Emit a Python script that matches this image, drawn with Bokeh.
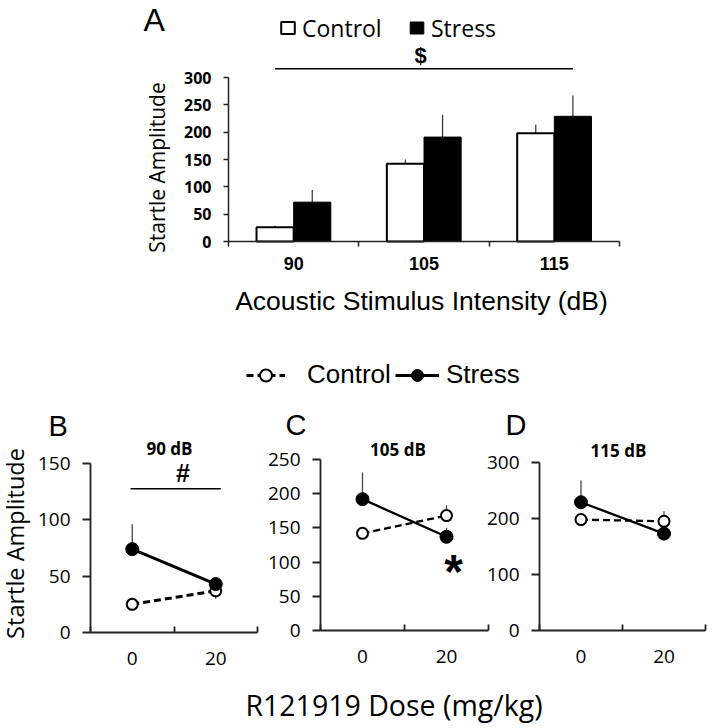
from math import pi
from bokeh.plotting import figure
from bokeh.models import (Range1d, FixedTicker, Label, Legend, LegendItem, ColumnDataSource,
                          LinearAxis)
from bokeh.embed import file_html
from bokeh.resources import INLINE

# ---------------- data ----------------
intensity_labels = ["90", "105", "115"]
control_A = [26, 142, 198]
control_A_err = [3, 8, 16]
stress_A = [72, 191, 229]
stress_A_err = [22, 41, 38]
yticks_A = [0, 50, 100, 150, 200, 250, 300]

dose_labels = ["0", "20"]
control_B = [25, 37]
control_B_err = [0, -7]
stress_B = [74, 43]
stress_B_err = [22, 5]
yticks_B = [0, 50, 100, 150]

control_C = [142, 168]
control_C_err = [0, 15]
stress_C = [192, 137]
stress_C_err = [39, 13]
yticks_C = [0, 50, 100, 150, 200, 250]

control_D = [198, 195]
control_D_err = [0, 18]
stress_D = [229, 173]
stress_D_err = [39, 0]
yticks_D = [0, 100, 200, 300]

OPEN = "Open Sans"
ARIAL = "Liberation Sans"
AXC = "#222222"
W, H = 714, 728

# One canvas; every panel gets its own pair of ranges (layout anchors in pixels).
p = figure(width=W, height=H, x_range=Range1d(0, W), y_range=Range1d(0, H),
           x_axis_location=None, y_axis_location=None,
           min_border_left=0, min_border_right=0, min_border_top=0, min_border_bottom=0,
           output_backend="svg", toolbar_location=None, title=None)
p.xgrid.visible = False
p.ygrid.visible = False
p.outline_line_color = None


def xrange_from(px0, v0, px1, v1):
    s = (px1 - px0) / (v1 - v0)
    return Range1d(v0 - px0 / s, v0 + (W - px0) / s)


def yrange_from(py0, v0, py1, v1):
    q0, q1 = H - py0, H - py1
    s = (q1 - q0) / (v1 - v0)
    return Range1d(v0 - q0 / s, v0 + (H - q0) / s)


nA = len(intensity_labels)
nD = len(dose_labels)
p.extra_x_ranges = {
    "A": xrange_from(228, 0, 619, nA),
    "B": xrange_from(90, 0, 257, nD),
    "C": xrange_from(320, 0, 488, nD),
    "D": xrange_from(539, 0, 705, nD),
}
p.extra_y_ranges = {
    "A": yrange_from(241, 0, 77, 300),
    "B": yrange_from(632, 0, 463, 150),
    "C": yrange_from(630, 0, 459, 250),
    "D": yrange_from(630, 0, 462, 300),
}


def style_axis(ax, lw, font, size, style="normal"):
    ax.axis_line_color = AXC
    ax.axis_line_width = lw
    ax.major_tick_line_color = AXC
    ax.minor_tick_line_color = AXC
    ax.major_tick_line_width = lw
    ax.minor_tick_line_width = lw
    ax.major_label_text_color = "black"
    ax.major_label_text_font = font
    ax.major_label_text_font_size = size
    ax.major_label_text_font_style = style


def txt(x, y_page, t, font, size, style="normal", align="center", angle=0):
    # y_page is the vertical centre of the text on the page
    p.add_layout(Label(x=x, y=H - y_page, text=t, text_font=font, text_font_size=size,
                       text_font_style=style, text_align=align, text_baseline="middle",
                       angle=angle, text_color="black"))


# ---------------- Panel A ----------------
bar_w = 0.285
ctrl_x = [i + 0.5 - bar_w / 2 for i in range(nA)]
str_x = [i + 0.5 + bar_w / 2 for i in range(nA)]
srcA_c = ColumnDataSource(dict(x=ctrl_x, top=control_A,
                               etop=[m + e for m, e in zip(control_A, control_A_err)]))
srcA_s = ColumnDataSource(dict(x=str_x, top=stress_A,
                               etop=[m + e for m, e in zip(stress_A, stress_A_err)]))
rA = dict(x_range_name="A", y_range_name="A")
p.segment(x0="x", y0="top", x1="x", y1="etop", source=srcA_c, line_color="#333333", line_width=1.2, **rA)
p.segment(x0="x", y0="top", x1="x", y1="etop", source=srcA_s, line_color="#333333", line_width=1.2, **rA)
bars_c = p.vbar(x="x", top="top", bottom=0, width=bar_w, source=srcA_c,
                fill_color="white", line_color="black", line_width=2, **rA)
bars_s = p.vbar(x="x", top="top", bottom=0, width=bar_w, source=srcA_s,
                fill_color="black", line_color="black", line_width=1, **rA)

yaxA = LinearAxis(fixed_location=0, bounds=(0, 300), ticker=FixedTicker(ticks=yticks_A, minor_ticks=[]),
                  major_tick_out=5, major_tick_in=0, minor_tick_out=0, major_label_standoff=12, **rA)
style_axis(yaxA, 1.5, OPEN, "16px", "bold")
p.add_layout(yaxA, "left")
xaxA = LinearAxis(fixed_location=0, bounds=(0, nA),
                  ticker=FixedTicker(ticks=[i + 0.5 for i in range(nA)], minor_ticks=list(range(nA + 1))),
                  major_label_overrides={i + 0.5: lab for i, lab in enumerate(intensity_labels)},
                  major_tick_out=0, major_tick_in=0, minor_tick_out=5, minor_tick_in=0,
                  major_label_standoff=10, **rA)
style_axis(xaxA, 1.5, ARIAL, "18px", "bold")
p.add_layout(xaxA, "below")

# significance bar "$" spanning 90-control to 115-stress
p.segment(x0=[ctrl_x[0]], y0=[316], x1=[str_x[-1]], y1=[316], line_color="black", line_width=1.5, **rA)
txt(420, 55, "$", ARIAL, "22px", "bold")
txt(143, 19, "A", ARIAL, "32px", align="left")
txt(156, 167, "Startle Amplitude", OPEN, "21px", angle=pi / 2)
txt(421, 300, "Acoustic Stimulus Intensity (dB)", ARIAL, "26.5px")

for item_label, rend, vx in (("Control", bars_c, 279), ("Stress", bars_s, 408)):
    lg = Legend(items=[LegendItem(label=item_label, renderers=[rend])], location=(vx, H - 43.5),
                orientation="horizontal", glyph_width=17, glyph_height=15, label_standoff=6,
                label_height=15, padding=0, margin=0, spacing=0,
                border_line_color=None, background_fill_alpha=0,
                label_text_font=OPEN, label_text_font_size="23px", label_text_color="black")
    p.add_layout(lg, "center")


# ---------------- Panels B, C, D ----------------
def dose_panel(name, ymax, yticks, ctrl, ctrl_err, stress, stress_err, lw):
    r = dict(x_range_name=name, y_range_name=name)
    xs = [i + 0.5 for i in range(nD)]
    src_c = ColumnDataSource(dict(x=xs, y=ctrl, e=[m + e for m, e in zip(ctrl, ctrl_err)]))
    src_s = ColumnDataSource(dict(x=xs, y=stress, e=[m + e for m, e in zip(stress, stress_err)]))
    p.segment(x0="x", y0="y", x1="x", y1="e", source=src_c, line_color="#444444", line_width=1.3, **r)
    p.segment(x0="x", y0="y", x1="x", y1="e", source=src_s, line_color="#444444", line_width=1.3, **r)
    lc = p.line(x="x", y="y", source=src_c, line_color="black", line_width=lw, line_dash="7 4", **r)
    ls = p.line(x="x", y="y", source=src_s, line_color="black", line_width=lw, **r)
    mc = p.scatter(x="x", y="y", source=src_c, marker="circle", size=11, fill_color="white",
                   line_color="black", line_width=2, **r)
    ms = p.scatter(x="x", y="y", source=src_s, marker="circle", size=13, fill_color="black",
                   line_color="black", **r)
    ya = LinearAxis(fixed_location=0, bounds=(0, ymax), ticker=FixedTicker(ticks=yticks, minor_ticks=[]),
                    major_tick_out=8, major_tick_in=0, minor_tick_out=0, major_label_standoff=12, **r)
    style_axis(ya, 1.8, OPEN, "19px")
    p.add_layout(ya, "left")
    xa = LinearAxis(fixed_location=0, bounds=(0, nD),
                    ticker=FixedTicker(ticks=xs, minor_ticks=list(range(nD + 1))),
                    major_label_overrides={x: lab for x, lab in zip(xs, dose_labels)},
                    major_tick_out=0, major_tick_in=0, minor_tick_in=6, minor_tick_out=0,
                    major_label_standoff=19, **r)
    style_axis(xa, 1.8, OPEN, "19px")
    p.add_layout(xa, "below")
    return lc, mc, ls, ms


lcB, mcB, lsB, msB = dose_panel("B", 150, yticks_B, control_B, control_B_err, stress_B, stress_B_err, 3)
p.segment(x0=[0.48], y0=[127.5], x1=[1.56], y1=[127.5], line_color="black", line_width=1.5,
          x_range_name="B", y_range_name="B")
dose_panel("C", 250, yticks_C, control_C, control_C_err, stress_C, stress_C_err, 2.3)
dose_panel("D", 300, yticks_D, control_D, control_D_err, stress_D, stress_D_err, 2.3)

txt(182.5, 472.5, "#", ARIAL, "25px", "bold")
txt(169, 447.5, "90 dB", OPEN, "17px", "bold")
txt(397.5, 449, "105 dB", OPEN, "17px", "bold")
txt(618, 450, "115 dB", OPEN, "17px", "bold")
txt(48, 425, "B", ARIAL, "29px", align="left")
txt(285, 424, "C", ARIAL, "29px", align="left")
txt(505, 424, "D", ARIAL, "29px", align="left")
txt(453, 571, "*", ARIAL, "48px", "bold")
txt(14, 543, "Startle Amplitude", OPEN, "23.5px", angle=pi / 2)
txt(393.5, 704, "R121919 Dose (mg/kg)", OPEN, "28.5px")

# shared legend for B-D (uses panel B's own renderers)
for item_label, rends, vx, gw, st in (("Control", [lcB, mcB], 246, 39, 22),
                                      ("Stress", [lsB, msB], 395, 44, 7)):
    lg = Legend(items=[LegendItem(label=item_label, renderers=rends)], location=(vx, H - 390),
                orientation="horizontal", glyph_width=gw, glyph_height=30, label_standoff=st,
                label_height=30, padding=0, margin=0, spacing=0,
                border_line_color=None, background_fill_alpha=0,
                label_text_font=ARIAL, label_text_font_size="26px", label_text_color="black")
    p.add_layout(lg, "center")

open("out.html", "w").write(file_html(p, INLINE))
